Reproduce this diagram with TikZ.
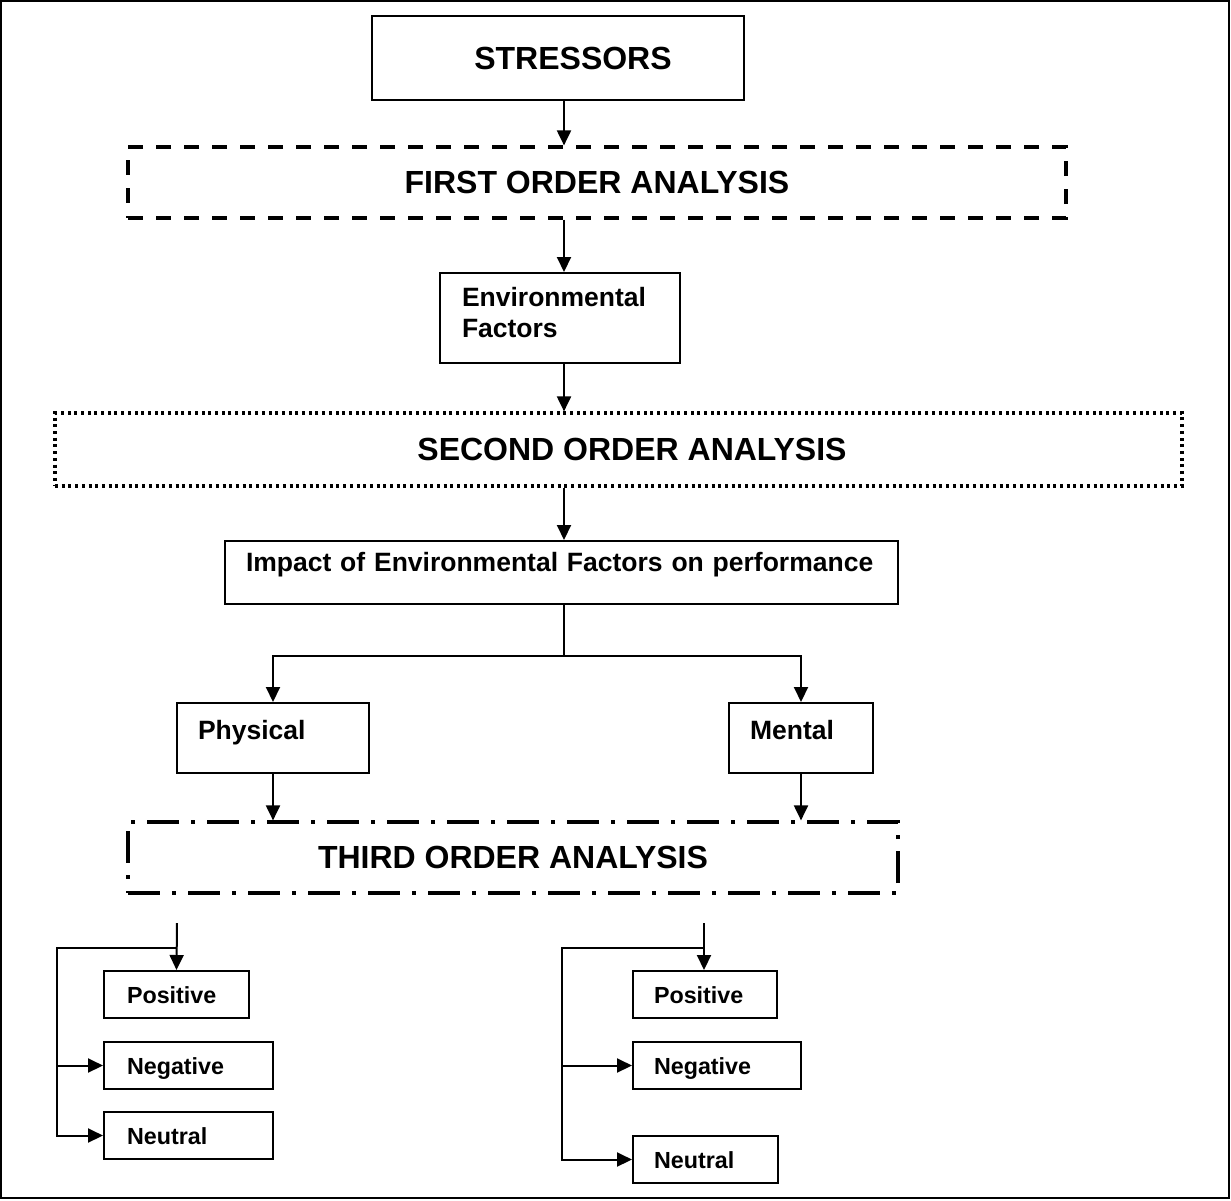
\documentclass[tikz,border=0pt]{standalone}
\usepackage{fontspec}
\setmainfont{Liberation Sans}
\usetikzlibrary{arrows.meta}
\begin{document}
\begin{tikzpicture}[x=1pt,y=-1pt,
  box/.style={draw, line width=2pt, inner sep=0pt},
  dashbox/.style={draw, line width=3.2pt, inner sep=0pt, dash pattern=on 15pt off 13pt},
  dotbox/.style={draw, line width=3.2pt, inner sep=0pt, dash pattern=on 3pt off 3.7pt},
  dashdotbox/.style={draw, line width=3.2pt, inner sep=0pt, dash pattern=on 32pt off 12pt on 4pt off 12pt},
  bigtxt/.style={font=\fontsize{32}{38}\selectfont\bfseries},
  medtxt/.style={font=\fontsize{26.5}{31}\selectfont\bfseries, align=left},
  smltxt/.style={font=\fontsize{23.3}{28}\selectfont\bfseries, align=left, text height=17pt, text depth=0pt},
  conn/.style={line width=2pt},
  arr/.style={conn, -{Triangle[length=15pt,width=14pt]}}
]
\useasboundingbox (0,0) rectangle (1231,1200);
\draw[line width=1.5pt] (1,1) rectangle (1229,1198);

% main column
\node[box, bigtxt, minimum width=372pt, minimum height=84pt] (stressors) at (558,58) {\hspace*{30pt}STRESSORS};
\node[dashbox, bigtxt, minimum width=938pt, minimum height=71pt] (first) at (597,182.5) {FIRST ORDER ANALYSIS};
\node[box, medtxt, minimum height=90pt, inner xsep=22pt, text width=196pt, text depth=43pt] (env) at (560,318) {Environmental\\Factors};
\node[dotbox, bigtxt, minimum width=1127pt, minimum height=73pt] (second) at (618.5,449.5) {\hspace*{27pt}SECOND ORDER ANALYSIS};
\node[box, medtxt, minimum height=63pt, inner xsep=21pt, text width=631pt, text height=19pt, text depth=21pt] (impact) at (561.5,572.5) {Impact of Environmental Factors on performance};
\node[box, medtxt, minimum height=70pt, inner xsep=21pt, text width=150pt, text height=19pt, text depth=16pt] (physical) at (273,738) {Physical};
\node[box, medtxt, minimum height=70pt, inner xsep=21pt, text width=102pt, text height=19pt, text depth=16pt] (mental) at (801,738) {Mental};
\node[dashdotbox, bigtxt, minimum width=770pt, minimum height=71pt] (third) at (513,857.5) {THIRD ORDER ANALYSIS};

% outcome boxes, physical side
\node[box, smltxt, minimum height=47pt, inner xsep=23pt, text width=99pt] (posL) at (176.5,994.5) {Positive};
\node[box, smltxt, minimum height=47pt, inner xsep=23pt, text width=123pt] (negL) at (188.5,1065.5) {Negative};
\node[box, smltxt, minimum height=47pt, inner xsep=23pt, text width=123pt] (neuL) at (188.5,1135.5) {Neutral};

% outcome boxes, mental side
\node[box, smltxt, minimum height=47pt, inner xsep=21pt, text width=102pt] (posR) at (705,994.5) {Positive};
\node[box, smltxt, minimum height=47pt, inner xsep=21pt, text width=126pt] (negR) at (717,1065.5) {Negative};
\node[box, smltxt, minimum height=47pt, inner xsep=21pt, text width=103pt] (neuR) at (705.5,1159.5) {Neutral};

% vertical spine of the main column
\coordinate (spine) at (564,0);
\draw[arr] (stressors.south -| spine) -- (first.north -| spine);
\draw[arr] (first.south -| spine) -- (env.north -| spine);
\draw[arr] (env.south -| spine) -- (second.north -| spine);
\draw[arr] (second.south -| spine) -- (impact.north -| spine);

% split into physical and mental
\draw[conn] (impact.south -| spine) -- ++(0,51) coordinate (split);
\draw[arr] (split) -| (physical.north);
\draw[arr] (split) -| (mental.north);
\draw[arr] (physical.south) -- (physical.south |- third.north);
\draw[arr] (mental.south) -- (mental.south |- third.north);

% physical outcomes
\coordinate (inL) at (177,923);
\coordinate (jL) at (177,948);
\coordinate (railL) at (57,948);
\draw[arr] (inL) -- (posL.north);
\draw[arr] (jL) -- (railL) |- (neuL.west);
\draw[arr] (railL |- negL.west) -- (negL.west);

% mental outcomes
\coordinate (inR) at (704,923);
\coordinate (jR) at (704,948);
\coordinate (railR) at (562,948);
\draw[arr] (inR) -- (inR |- posR.north);
\draw[arr] (jR) -- (railR) |- (neuR.west);
\draw[arr] (railR |- negR.west) -- (negR.west);
\end{tikzpicture}
\end{document}
